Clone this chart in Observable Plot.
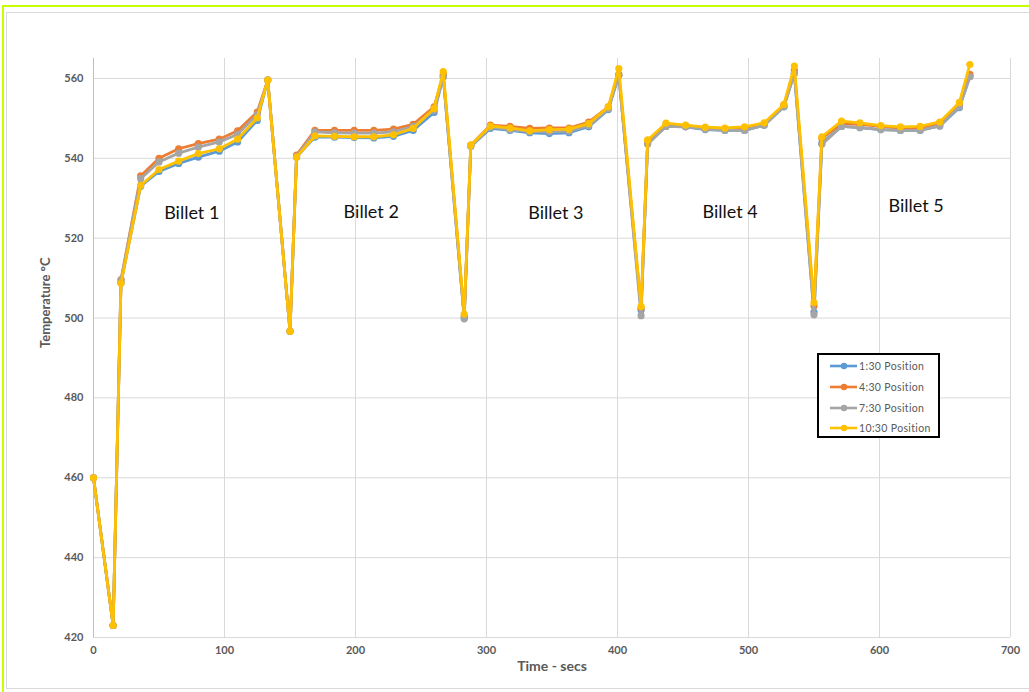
<!DOCTYPE html>
<html>
<head>
<meta charset="utf-8">
<script src="https://cdn.jsdelivr.net/npm/d3@7"></script>
<script src="https://cdn.jsdelivr.net/npm/@observablehq/plot@0.6"></script>
<style>
  html, body { margin: 0; padding: 0; background: #fff; overflow: hidden; }
  #wrap { position: relative; width: 1029px; height: 692px; overflow: hidden; font-family: Lato, "Open Sans", sans-serif; }
  #chart { position: absolute; left: 0; top: 0; }
  .lime { position: absolute; background: #c8ff00; pointer-events: none; }
  #inner { position: absolute; left: 6px; top: 12px; width: 1060px; height: 675px; border: 1px solid #d9d9d9; border-right: none; pointer-events: none; }
  #legend { position: absolute; left: 817px; top: 353px; width: 119px; height: 81px; border: 2px solid #000; background: #fff; }
  .item { position: absolute; left: 10px; height: 14px; display: flex; align-items: center; font-size: 10.5px; letter-spacing: 0.35px; color: #595959; font-family: Lato, sans-serif; white-space: nowrap; }
  .item svg { margin-right: 1px; }
</style>
</head>
<body>
<div id="wrap">
  <div id="chart"></div>
  <div id="inner"></div>
  <div class="lime" style="left:2px;top:5px;width:1060px;height:2px;"></div>
  <div class="lime" style="left:2px;top:5px;width:2px;height:700px;"></div>
  <div id="legend"></div>
</div>
<script>
// Time (seconds)
const times = [0, 15, 21, 36, 50, 65, 80, 96, 110, 125, 133,
  150, 155, 169, 184, 199, 214, 229, 244, 260, 267,
  283, 288, 303, 318, 333, 348, 363, 378, 393, 401,
  418, 423, 437, 452, 467, 482, 497, 512, 527, 535,
  550, 556, 571, 585, 601, 616, 631, 646, 661, 669];

const seriesNames = ["1:30 Position", "4:30 Position", "7:30 Position", "10:30 Position"];
const seriesColors = ["#5b9bd5", "#ed7d31", "#a5a5a5", "#ffc000"];

const pos130 = [460, 423, 508.8, 533, 536.7, 538.7, 540.3, 541.8, 544.1, 549.5, 559.6,
  496.7, 540.3, 545.3, 545.3, 545.2, 545.1, 545.5, 547, 551.5, 560.4,
  500, 543, 547.5, 547, 546.4, 546.2, 546.4, 547.9, 552.2, 560.8,
  502, 543.8, 548, 547.9, 547.2, 547, 547, 548.3, 552.9, 561.3,
  501.5, 543.8, 548, 547.7, 547.2, 547, 547, 548.1, 552.7, 560.5];
const pos430 = [460, 423, 509.6, 535.6, 540, 542.4, 543.7, 544.8, 546.9, 551.6, 559.6,
  496.7, 540.8, 547, 547, 547, 547, 547.3, 548.5, 552.9, 561,
  500.5, 543.3, 548.3, 548, 547.5, 547.6, 547.6, 549.1, 552.9, 561,
  502.5, 544.2, 548.3, 548.1, 547.6, 547.4, 547.6, 548.7, 553.3, 562,
  503, 545, 548.7, 548.5, 548, 547.6, 547.7, 548.8, 553.5, 561];
const pos730 = [460, 423, 509.5, 534.9, 539.1, 541.3, 542.8, 544.1, 546, 551, 559.6,
  496.7, 540.5, 546.6, 546.4, 546.3, 546.3, 546.6, 548, 552, 560.4,
  499.8, 543, 547.8, 547.2, 546.7, 546.6, 546.8, 548.2, 552.4, 560.8,
  500.6, 543.5, 548, 547.9, 547.3, 547, 547, 548.3, 552.9, 561.3,
  500.8, 543.5, 548, 547.7, 547.2, 547, 547, 548.1, 552.9, 560.4];
const pos1030 = [460, 423, 508.7, 533.2, 537.2, 539.3, 541.2, 542.4, 544.8, 550.1, 559.6,
  496.7, 540.3, 545.6, 545.5, 545.4, 545.4, 545.9, 547.5, 552.5, 561.7,
  501, 543.3, 548.1, 547.6, 546.9, 547.2, 547.3, 548.7, 552.9, 562.5,
  502.9, 544.6, 548.8, 548.3, 547.8, 547.6, 547.9, 548.9, 553.5, 563.1,
  503.9, 545.4, 549.3, 548.9, 548.2, 547.9, 548, 549.1, 554, 563.5];

const billetNames = ["Billet 1", "Billet 2", "Billet 3", "Billet 4", "Billet 5"];
const billetTimes = [75, 212, 353, 486, 628];
const billetTemps = [526.2, 526.5, 526.2, 526.5, 528];

const xTicks = [0, 100, 200, 300, 400, 500, 600, 700];
const yTicks = [420, 440, 460, 480, 500, 520, 540, 560];

const allSeries = [pos130, pos430, pos730, pos1030];
const rows = allSeries.map((vals, si) => times.map((t, i) => ({t, v: vals[i], s: seriesNames[si]})));
const billets = billetNames.map((n, i) => ({n, t: billetTimes[i], v: billetTemps[i]}));

const font = "Lato, 'Open Sans', sans-serif";
const axisGray = "#595959";

const marks = [
  Plot.gridX(xTicks, {stroke: "#d9d9d9", strokeOpacity: 1}),
  Plot.gridY(yTicks, {stroke: "#d9d9d9", strokeOpacity: 1}),
  Plot.ruleX([0], {stroke: "#bfbfbf"}),
  Plot.ruleY([420], {stroke: "#d9d9d9"}),
  Plot.axisX(xTicks, {tickSize: 0, tickPadding: 9, fontWeight: "bold", fontSize: 11, fill: axisGray, label: null, fontFamily: font}),
  Plot.axisY(yTicks, {tickSize: 0, tickPadding: 10, fontWeight: "bold", fontSize: 11, fill: axisGray, label: null, fontFamily: font}),
  Plot.text(["Time - secs"], {frameAnchor: "bottom", dy: 33, text: d => d, fontWeight: "bold", fontSize: 14, fill: axisGray, fontFamily: font}),
  Plot.text(["Temperature °C"], {frameAnchor: "left", dx: -48, rotate: -90, text: d => d, fontWeight: "bold", fontSize: 13, fill: axisGray, fontFamily: font}),
  ...rows.flatMap((r, si) => [
    Plot.line(r, {x: "t", y: "v", stroke: seriesColors[si], strokeWidth: 2.8, strokeLinejoin: "round"}),
    Plot.dot(r, {x: "t", y: "v", fill: seriesColors[si], r: 3.6})
  ]),
  Plot.text(billets, {x: "t", y: "v", text: "n", fontSize: 18, fill: "#111", fontFamily: font})
];

const chart = Plot.plot({
  width: 1029,
  height: 692,
  marginLeft: 93,
  marginRight: 19,
  marginTop: 58,
  marginBottom: 55,
  style: {background: "transparent", fontFamily: font},
  x: {domain: [0, 700]},
  y: {domain: [420, 565]},
  marks
});
document.getElementById("chart").appendChild(chart);

// Legend
const legend = document.getElementById("legend");
const tops = [4, 25, 46, 66];
seriesNames.forEach((name, i) => {
  const it = document.createElement("div");
  it.className = "item";
  it.style.top = tops[i] + "px";
  it.innerHTML = `<svg width="29" height="10"><line x1="1" y1="5" x2="28" y2="5" stroke="${seriesColors[i]}" stroke-width="2.6"/><circle cx="15" cy="5" r="3.2" fill="${seriesColors[i]}"/></svg><span>${name}</span>`;
  legend.appendChild(it);
});
</script>
</body>
</html>
